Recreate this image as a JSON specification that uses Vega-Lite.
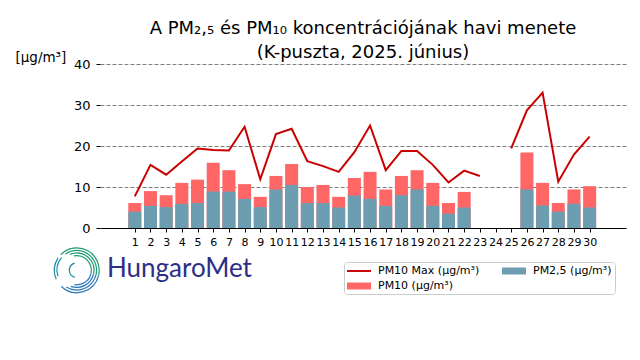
{
  "$schema": "https://vega.github.io/schema/vega-lite/v6.json",
  "autosize": {"type": "none"},
  "padding": {"left": 100, "top": 64, "right": 14, "bottom": 132},
  "width": 526,
  "height": 164,
  "background": "white",
  "config": {
    "font": "DejaVu Sans",
    "view": {"stroke": null},
    "axis": {"labelColor": "black", "tickColor": "black", "domainColor": "black", "titleColor": "black"}
  },
  "title": {
    "text": ["A PM₂,₅ és PM₁₀ koncentrációjának havi menete", "(K-puszta, 2025. június)"],
    "fontSize": 18,
    "fontWeight": "normal",
    "lineHeight": 24,
    "anchor": "middle",
    "offset": 3,
    "dy": 15,
    "color": "black"
  },
  "datasets": {
    "pm": [
      {"day": 1, "pm10": 6.1, "pm25": 4.0, "pmax": 7.7},
      {"day": 2, "pm10": 9.0, "pm25": 5.4, "pmax": 15.4},
      {"day": 3, "pm10": 8.0, "pm25": 5.1, "pmax": 13.0},
      {"day": 4, "pm10": 11.0, "pm25": 5.9, "pmax": 16.2},
      {"day": 5, "pm10": 11.8, "pm25": 6.1, "pmax": 19.4},
      {"day": 6, "pm10": 15.9, "pm25": 8.9, "pmax": 19.0},
      {"day": 7, "pm10": 14.1, "pm25": 8.9, "pmax": 18.9},
      {"day": 8, "pm10": 10.7, "pm25": 7.1, "pmax": 24.7},
      {"day": 9, "pm10": 7.6, "pm25": 5.1, "pmax": 11.9},
      {"day": 10, "pm10": 12.7, "pm25": 9.4, "pmax": 22.9},
      {"day": 11, "pm10": 15.6, "pm25": 10.5, "pmax": 24.2},
      {"day": 12, "pm10": 10.0, "pm25": 6.1, "pmax": 16.3},
      {"day": 13, "pm10": 10.5, "pm25": 6.1, "pmax": 15.1},
      {"day": 14, "pm10": 7.6, "pm25": 5.0, "pmax": 13.7},
      {"day": 15, "pm10": 12.2, "pm25": 7.9, "pmax": 18.5},
      {"day": 16, "pm10": 13.7, "pm25": 7.1, "pmax": 25.0},
      {"day": 17, "pm10": 9.4, "pm25": 5.4, "pmax": 14.1},
      {"day": 18, "pm10": 12.7, "pm25": 8.0, "pmax": 18.8},
      {"day": 19, "pm10": 14.1, "pm25": 9.4, "pmax": 18.8},
      {"day": 20, "pm10": 11.0, "pm25": 5.4, "pmax": 15.4},
      {"day": 21, "pm10": 6.1, "pm25": 3.5, "pmax": 11.1},
      {"day": 22, "pm10": 8.8, "pm25": 5.0, "pmax": 14.0},
      {"day": 23, "pm10": null, "pm25": null, "pmax": 12.7},
      {"day": 24, "pm10": null, "pm25": null, "pmax": null},
      {"day": 25, "pm10": null, "pm25": null, "pmax": 19.4},
      {"day": 26, "pm10": 18.4, "pm25": 9.4, "pmax": 28.7},
      {"day": 27, "pm10": 11.0, "pm25": 5.5, "pmax": 33.0},
      {"day": 28, "pm10": 6.1, "pm25": 4.0, "pmax": 11.3},
      {"day": 29, "pm10": 9.4, "pm25": 5.9, "pmax": 17.9},
      {"day": 30, "pm10": 10.2, "pm25": 5.0, "pmax": 22.3}
    ],
    "logo": [{"lx": -2.7, "ly": -10.3}],
    "brand": [{"name": "HungaroMet", "bx": -0.78, "by": -11.9}]
  },
  "layer": [
    {
      "data": {"name": "pm"},
      "mark": {"type": "bar", "size": 13},
      "encoding": {
        "x": {"field": "day", "type": "quantitative", "title": null,
          "scale": {"domain": [-0.9, 32], "nice": false, "zero": false},
          "axis": {"values": [1,2,3,4,5,6,7,8,9,10,11,12,13,14,15,16,17,18,19,20,21,22,23,24,25,26,27,28,29,30],
            "labelFontSize": 11, "tickSize": 4, "labelPadding": 4, "labelOverlap": false, "grid": false, "labelFlush": false, "domainWidth": 1.2}},
        "y": {"field": "pm10", "type": "quantitative", "title": "[μg/m³]",
          "scale": {"domain": [0, 40], "nice": false},
          "axis": {"values": [0, 10, 20, 30, 40], "title": "[μg/m³]", "titleAngle": 0, "titleX": -85, "titleY": -7,
            "titleAlign": "left", "titleBaseline": "middle", "titleFontSize": 13.5, "titleFontWeight": "normal",
            "labelFontSize": 13, "tickSize": 4, "labelPadding": 6, "domain": false,
            "grid": true, "gridColor": "#7f7f7f", "gridDash": [4, 2], "gridWidth": 1, "gridOpacity": 1}},
        "color": {"datum": "PM10 (μg/m³)", "type": "nominal",
          "scale": {"domain": ["PM10 Max (μg/m³)", "PM10 (μg/m³)", "PM2,5 (μg/m³)"], "range": ["#c80000", "#ff6666", "#6d9db1"]},
          "legend": {"title": null, "orient": "none", "legendX": 244, "legendY": 198, "columns": 2, "columnPadding": 22, "rowPadding": 4,
            "labelFontSize": 11, "labelColor": "black", "symbolSize": 144, "labelOffset": 19, "padding": 3,
            "fillColor": "white", "strokeColor": "#cccccc", "cornerRadius": 3,
            "encode": {"symbols": {"update": {
              "shape": {"signal": "datum.value === 'PM10 Max (μg/m³)' ? 'M-1,-0.16H3V0.16H-1Z' : 'M-1,-0.58H3V0.58H-1Z'"},
              "fill": {"signal": "datum.value === 'PM2,5 (μg/m³)' ? '#72bcd4' : scale('color', datum.value)"},
              "stroke": {"value": "transparent"},
              "strokeWidth": {"value": 0},
              "opacity": {"value": 1}
            }}}}}
      }
    },
    {
      "data": {"name": "pm"},
      "mark": {"type": "bar", "size": 13},
      "encoding": {
        "x": {"field": "day", "type": "quantitative", "title": null,
          "scale": {"domain": [-0.9, 32], "nice": false, "zero": false},
          "axis": {"values": [1,2,3,4,5,6,7,8,9,10,11,12,13,14,15,16,17,18,19,20,21,22,23,24,25,26,27,28,29,30],
            "labelFontSize": 11, "tickSize": 4, "labelPadding": 4, "labelOverlap": false, "grid": false, "labelFlush": false, "domainWidth": 1.2}},
        "y": {"field": "pm25", "type": "quantitative", "title": "[μg/m³]",
          "scale": {"domain": [0, 40], "nice": false},
          "axis": {"values": [0, 10, 20, 30, 40], "title": "[μg/m³]", "titleAngle": 0, "titleX": -85, "titleY": -7,
            "titleAlign": "left", "titleBaseline": "middle", "titleFontSize": 13.5, "titleFontWeight": "normal",
            "labelFontSize": 13, "tickSize": 4, "labelPadding": 6, "domain": false,
            "grid": true, "gridColor": "#7f7f7f", "gridDash": [4, 2], "gridWidth": 1, "gridOpacity": 1}},
        "color": {"datum": "PM2,5 (μg/m³)", "type": "nominal"}
      }
    },
    {
      "data": {"name": "pm"},
      "mark": {"type": "line", "strokeWidth": 2, "invalid": "break-paths-filter-domains"},
      "encoding": {
        "x": {"field": "day", "type": "quantitative", "title": null,
          "scale": {"domain": [-0.9, 32], "nice": false, "zero": false},
          "axis": {"values": [1,2,3,4,5,6,7,8,9,10,11,12,13,14,15,16,17,18,19,20,21,22,23,24,25,26,27,28,29,30],
            "labelFontSize": 11, "tickSize": 4, "labelPadding": 4, "labelOverlap": false, "grid": false, "labelFlush": false, "domainWidth": 1.2}},
        "y": {"field": "pmax", "type": "quantitative", "title": "[μg/m³]",
          "scale": {"domain": [0, 40], "nice": false},
          "axis": {"values": [0, 10, 20, 30, 40], "title": "[μg/m³]", "titleAngle": 0, "titleX": -85, "titleY": -7,
            "titleAlign": "left", "titleBaseline": "middle", "titleFontSize": 13.5, "titleFontWeight": "normal",
            "labelFontSize": 13, "tickSize": 4, "labelPadding": 6, "domain": false,
            "grid": true, "gridColor": "#7f7f7f", "gridDash": [4, 2], "gridWidth": 1, "gridOpacity": 1}},
        "color": {"datum": "PM10 Max (μg/m³)", "type": "nominal"}
      }
    },
    {
      "data": {"name": "brand"},
      "mark": {"type": "text", "font": "Lato", "fontSize": 26, "align": "left", "baseline": "alphabetic", "color": "#2d2f86"},
      "encoding": {
        "x": {"field": "bx", "type": "quantitative", "title": null,
          "scale": {"domain": [-0.9, 32], "nice": false, "zero": false},
          "axis": {"values": [1,2,3,4,5,6,7,8,9,10,11,12,13,14,15,16,17,18,19,20,21,22,23,24,25,26,27,28,29,30],
            "labelFontSize": 11, "tickSize": 4, "labelPadding": 4, "labelOverlap": false, "grid": false, "labelFlush": false, "domainWidth": 1.2}},
        "y": {"field": "by", "type": "quantitative", "title": "[μg/m³]",
          "scale": {"domain": [0, 40], "nice": false},
          "axis": {"values": [0, 10, 20, 30, 40], "title": "[μg/m³]", "titleAngle": 0, "titleX": -85, "titleY": -7,
            "titleAlign": "left", "titleBaseline": "middle", "titleFontSize": 13.5, "titleFontWeight": "normal",
            "labelFontSize": 13, "tickSize": 4, "labelPadding": 6, "domain": false,
            "grid": true, "gridColor": "#7f7f7f", "gridDash": [4, 2], "gridWidth": 1, "gridOpacity": 1}},
        "text": {"field": "name"}
      }
    },
    {
      "data": {"name": "logo"},
      "encoding": {
        "x": {"field": "lx", "type": "quantitative", "title": null,
          "scale": {"domain": [-0.9, 32], "nice": false, "zero": false},
          "axis": {"values": [1,2,3,4,5,6,7,8,9,10,11,12,13,14,15,16,17,18,19,20,21,22,23,24,25,26,27,28,29,30],
            "labelFontSize": 11, "tickSize": 4, "labelPadding": 4, "labelOverlap": false, "grid": false, "labelFlush": false, "domainWidth": 1.2}},
        "y": {"field": "ly", "type": "quantitative", "title": "[μg/m³]",
          "scale": {"domain": [0, 40], "nice": false},
          "axis": {"values": [0, 10, 20, 30, 40], "title": "[μg/m³]", "titleAngle": 0, "titleX": -85, "titleY": -7,
            "titleAlign": "left", "titleBaseline": "middle", "titleFontSize": 13.5, "titleFontWeight": "normal",
            "labelFontSize": 13, "tickSize": 4, "labelPadding": 6, "domain": false,
            "grid": true, "gridColor": "#7f7f7f", "gridDash": [4, 2], "gridWidth": 1, "gridOpacity": 1}}
      },
      "layer": [
        {"mark": {"type": "arc", "radius": 23, "radius2": 21.8, "theta": -0.8, "theta2": 1.8, "color": "#1f9a72"}},
        {"mark": {"type": "arc", "radius": 23, "radius2": 21.8, "theta": 1.8, "theta2": 3.9, "color": "#2a78b8"}},
        {"mark": {"type": "arc", "radius": 23, "radius2": 21.8, "theta": 4.3, "theta2": 5.3, "color": "#1a8fa5"}},
        {"mark": {"type": "arc", "radius": 20.4, "radius2": 19.2, "theta": -0.6, "theta2": 1.8, "color": "#1f9a72"}},
        {"mark": {"type": "arc", "radius": 20.4, "radius2": 19.2, "theta": 1.8, "theta2": 3.7, "color": "#2a78b8"}},
        {"mark": {"type": "arc", "radius": 20.4, "radius2": 19.2, "theta": 4.4, "theta2": 5.4, "color": "#1a8fa5"}},
        {"mark": {"type": "arc", "radius": 17.8, "radius2": 16.6, "theta": -0.4, "theta2": 1.8, "color": "#1f9a72"}},
        {"mark": {"type": "arc", "radius": 17.8, "radius2": 16.6, "theta": 1.8, "theta2": 3.5, "color": "#2a78b8"}},
        {"mark": {"type": "arc", "radius": 15.2, "radius2": 14, "theta": -0.2, "theta2": 1.8, "color": "#1f9a72"}},
        {"mark": {"type": "arc", "radius": 15.2, "radius2": 14, "theta": 1.8, "theta2": 3.3, "color": "#2a78b8"}},
        {"mark": {"type": "arc", "radius": 8, "radius2": 6.8, "theta": 3.4, "theta2": 6.0, "color": "#1a8fa5"}}
      ]
    }
  ]
}
